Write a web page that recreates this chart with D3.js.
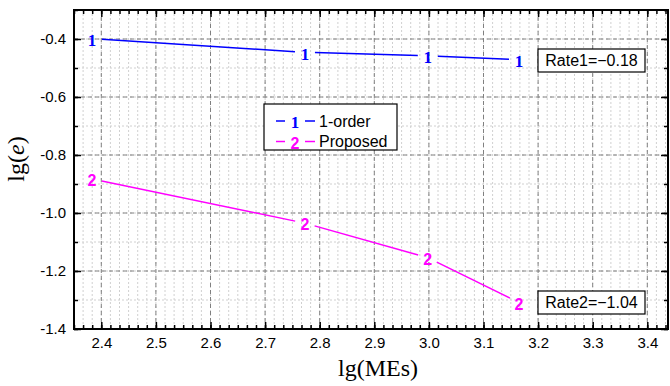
<!DOCTYPE html>
<html><head><meta charset="utf-8">
<script src="https://cdn.jsdelivr.net/npm/d3@7"></script>
<style>body{margin:0;background:#fff}svg{display:block}</style>
</head><body>
<script>
const xValues = [2.383, 2.773, 2.998, 3.165];
const series1 = [-0.399, -0.446, -0.458, -0.471];
const series2 = [-0.883, -1.035, -1.154, -1.309];
const seriesNames = ["1-order", "Proposed"];
const seriesSymbols = ["1", "2"];
const xTicks = [2.4, 2.5, 2.6, 2.7, 2.8, 2.9, 3.0, 3.1, 3.2, 3.3, 3.4];
const yTicks = [-1.4, -1.2, -1.0, -0.8, -0.6, -0.4];
const rateLabels = ["Rate1=\u22120.18", "Rate2=\u22121.04"];

(function () {
const W = 670, H = 386;
const L = 74, R = 668, T = 10, B = 329;
const svg = d3.select("body").append("svg").attr("width", W).attr("height", H);
const x = d3.scaleLinear().domain([2.35, 2.35 + (R - L) / 546]).range([L, R]);
const y = d3.scaleLinear().domain([-1.4, -0.3]).range([B, T]);

const xMinor = d3.range(141, 207).map(i => i / 60).filter(v => v <= x.domain()[1]);
const yMinor = d3.range(-14, -2).map(i => i / 10);

// grid
const g = svg.append("g");
g.selectAll(".vm").data(xMinor).join("line")
  .attr("x1", d => x(d)).attr("x2", d => x(d)).attr("y1", T).attr("y2", B)
  .attr("stroke", "#d0d0d0").attr("stroke-width", 1).attr("stroke-dasharray", "2,2");
g.selectAll(".hm").data(yMinor).join("line")
  .attr("x1", L).attr("x2", R).attr("y1", d => y(d)).attr("y2", d => y(d))
  .attr("stroke", "#d0d0d0").attr("stroke-width", 1).attr("stroke-dasharray", "2,2");
g.selectAll(".vM").data(xTicks).join("line")
  .attr("x1", d => x(d)).attr("x2", d => x(d)).attr("y1", T).attr("y2", B)
  .attr("stroke", "#808080").attr("stroke-width", 1).attr("stroke-dasharray", "4,3");
g.selectAll(".hM").data(yTicks).join("line")
  .attr("x1", L).attr("x2", R).attr("y1", d => y(d)).attr("y2", d => y(d))
  .attr("stroke", "#808080").attr("stroke-width", 1).attr("stroke-dasharray", "4,3");

// axes (ticks inward)
const fmt = d3.format(".1f");
const axBottom = svg.append("g").attr("transform", `translate(0,${B})`)
  .call(d3.axisBottom(x).tickValues(xTicks).tickSize(-7).tickPadding(8).tickFormat(fmt));
const axBottomMinor = svg.append("g").attr("transform", `translate(0,${B})`)
  .call(d3.axisBottom(x).tickValues(xMinor).tickSize(-4).tickFormat(""));
const axTop = svg.append("g").attr("transform", `translate(0,${T})`)
  .call(d3.axisTop(x).tickValues(xTicks).tickSize(-7).tickFormat(""));
const axTopMinor = svg.append("g").attr("transform", `translate(0,${T})`)
  .call(d3.axisTop(x).tickValues(xMinor).tickSize(-4).tickFormat(""));
const axLeft = svg.append("g").attr("transform", `translate(${L},0)`)
  .call(d3.axisLeft(y).tickValues(yTicks).tickSize(-7).tickPadding(8).tickFormat(d => fmt(d).replace("\u2212", "-")));
const axLeftMinor = svg.append("g").attr("transform", `translate(${L},0)`)
  .call(d3.axisLeft(y).tickValues(yMinor).tickSize(-4).tickFormat(""));
const axRight = svg.append("g").attr("transform", `translate(${R},0)`)
  .call(d3.axisRight(y).tickValues(yTicks).tickSize(-7).tickFormat(""));
const axRightMinor = svg.append("g").attr("transform", `translate(${R},0)`)
  .call(d3.axisRight(y).tickValues(yMinor).tickSize(-4).tickFormat(""));
[axBottom, axBottomMinor, axTop, axTopMinor, axLeft, axLeftMinor, axRight, axRightMinor].forEach(a => {
  a.select(".domain").remove();
  a.selectAll("line").attr("stroke", "#000").attr("stroke-width", 1.5);
  a.selectAll("text").attr("font-family", "Liberation Sans, Arial, sans-serif")
    .attr("font-size", 15).attr("fill", "#000");
});
svg.append("rect").attr("x", L).attr("y", T).attr("width", R - L).attr("height", B - T)
  .attr("fill", "none").attr("stroke", "#000").attr("stroke-width", 2);

// series
const colors = ["#0000ff", "#ff00ff"];
const symFonts = [
  {family: "Liberation Serif, Times New Roman, serif", size: 17},
  {family: "Liberation Sans, Arial, sans-serif", size: 16}
];
const gap = 10;
[series1, series2].forEach((vals, si) => {
  const pts = xValues.map((xv, i) => [x(xv), y(vals[i])]);
  for (let i = 0; i < pts.length - 1; i++) {
    const [x0, y0] = pts[i], [x1, y1] = pts[i + 1];
    const dx = x1 - x0, dy = y1 - y0, len = Math.hypot(dx, dy);
    const ux = dx / len, uy = dy / len;
    svg.append("line")
      .attr("x1", x0 + ux * gap).attr("y1", y0 + uy * gap)
      .attr("x2", x1 - ux * gap).attr("y2", y1 - uy * gap)
      .attr("stroke", colors[si]).attr("stroke-width", 1.5);
  }
  svg.selectAll(null).data(pts).join("text")
    .attr("x", d => d[0]).attr("y", d => d[1] + 1.5).attr("dy", "0.35em")
    .attr("text-anchor", "middle").attr("font-weight", "bold")
    .attr("font-family", symFonts[si].family).attr("font-size", symFonts[si].size)
    .attr("fill", colors[si]).text(seriesSymbols[si]);
});

// legend
const lg = svg.append("g");
lg.append("rect").attr("x", 264).attr("y", 104).attr("width", 133).attr("height", 46)
  .attr("fill", "#fff").attr("stroke", "#000").attr("stroke-width", 1.2);
seriesNames.forEach((name, i) => {
  const cy = 121 + i * 20.5;
  lg.append("line").attr("x1", 276).attr("x2", 285).attr("y1", cy).attr("y2", cy)
    .attr("stroke", colors[i]).attr("stroke-width", 1.5);
  lg.append("line").attr("x1", 305).attr("x2", 315).attr("y1", cy).attr("y2", cy)
    .attr("stroke", colors[i]).attr("stroke-width", 1.5);
  lg.append("text").attr("x", 295).attr("y", cy + 1.5).attr("dy", "0.35em")
    .attr("text-anchor", "middle").attr("font-weight", "bold")
    .attr("font-family", symFonts[i].family).attr("font-size", symFonts[i].size)
    .attr("fill", colors[i]).text(seriesSymbols[i]);
  lg.append("text").attr("x", 319).attr("y", cy).attr("dy", "0.35em")
    .attr("font-family", "Liberation Sans, Arial, sans-serif").attr("font-size", 16)
    .attr("fill", "#000").text(name);
});

// rate boxes
const rateY = [49, 291];
rateLabels.forEach((t, i) => {
  svg.append("rect").attr("x", 538).attr("y", rateY[i]).attr("width", 107).attr("height", 23)
    .attr("fill", "#fff").attr("stroke", "#000").attr("stroke-width", 1.2);
  svg.append("text").attr("x", 591.5).attr("y", rateY[i] + 11.5).attr("dy", "0.35em")
    .attr("text-anchor", "middle")
    .attr("font-family", "Liberation Sans, Arial, sans-serif").attr("font-size", 16)
    .attr("fill", "#000").text(t);
});

// axis titles
svg.append("text").attr("x", 378).attr("y", 376).attr("text-anchor", "middle")
  .attr("font-family", "Liberation Serif, Times New Roman, serif").attr("font-size", 24)
  .text("lg(MEs)");
const yt = svg.append("text").attr("transform", "translate(24,159) rotate(-90)")
  .attr("text-anchor", "middle")
  .attr("font-family", "Liberation Serif, Times New Roman, serif").attr("font-size", 24);
yt.append("tspan").text("lg(");
yt.append("tspan").attr("font-style", "italic").text("e");
yt.append("tspan").text(")");
})();
</script>
</body></html>
